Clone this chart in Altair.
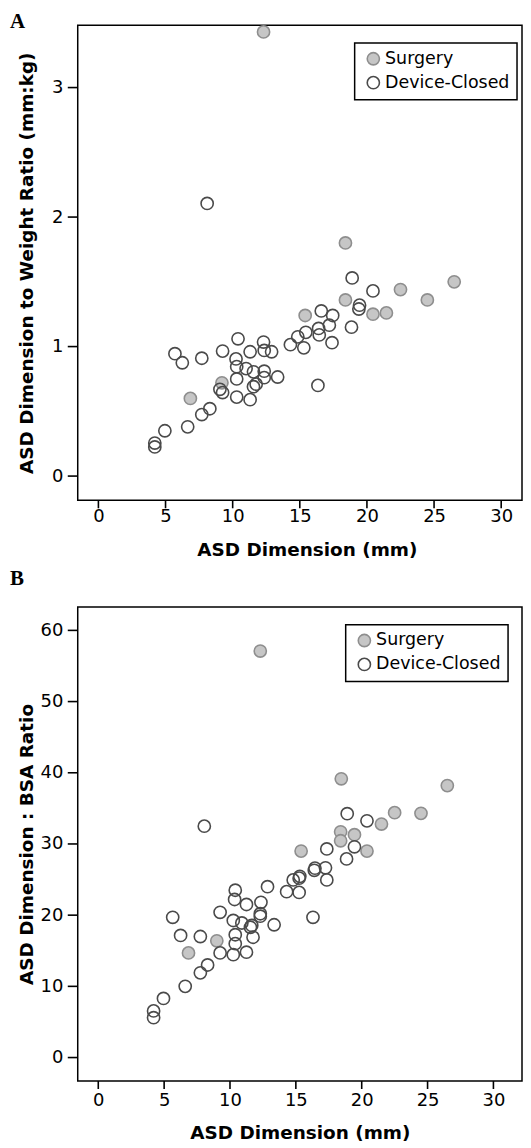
import altair as alt
import pandas as pd

groups = ["Surgery", "Device-Closed"]

# Panel A: ASD dimension (mm) vs ASD dimension to weight ratio (mm:kg)
a_surg_x = [12.3, 18.4, 26.5, 24.5, 22.5, 21.45, 18.4, 20.45, 15.4, 9.2, 6.85]
a_surg_y = [3.43, 1.80, 1.50, 1.36, 1.44, 1.26, 1.36, 1.25, 1.24, 0.72, 0.60]
a_dev_x = [18.9, 20.45, 19.45, 19.4, 18.85, 16.6, 17.45, 17.2, 16.4, 16.45, 17.4, 15.45,
           14.85, 14.3, 15.3, 16.35, 10.4, 12.3, 12.35, 12.9, 11.3, 9.25, 7.7, 5.7, 6.25,
           10.25, 10.3, 11.0, 11.55, 12.35, 13.35, 12.35, 10.3, 11.75, 11.55, 9.05, 9.25,
           10.3, 11.3, 8.3, 7.7, 6.65, 4.95, 4.2, 4.2, 8.1]
a_dev_y = [1.53, 1.43, 1.32, 1.29, 1.15, 1.275, 1.24, 1.165, 1.14, 1.09, 1.03, 1.11,
           1.075, 1.015, 0.99, 0.70, 1.06, 1.035, 0.97, 0.96, 0.96, 0.965, 0.91, 0.945, 0.875,
           0.905, 0.845, 0.83, 0.805, 0.81, 0.765, 0.76, 0.75, 0.71, 0.69, 0.67, 0.645,
           0.61, 0.59, 0.52, 0.475, 0.38, 0.35, 0.255, 0.225, 2.105]

# Panel B: ASD dimension (mm) vs ASD dimension : BSA ratio
b_surg_x = [12.3, 18.45, 26.5, 24.5, 22.5, 21.5, 18.4, 19.45, 18.4, 20.4, 15.4, 9.0, 6.85]
b_surg_y = [57.1, 39.15, 38.2, 34.3, 34.4, 32.8, 31.7, 31.3, 30.45, 29.0, 29.0, 16.4, 14.7]
b_dev_x = [18.9, 20.4, 19.45, 18.85, 17.35, 17.25, 16.45, 16.4, 17.35, 15.3, 15.25, 14.8,
           14.3, 15.25, 16.3, 12.85, 10.4, 10.35, 11.25, 12.35, 12.3, 12.3, 9.25, 10.25,
           10.9, 11.65, 11.55, 13.35, 11.75, 10.4, 10.4, 9.25, 10.25, 11.25, 5.65, 6.25,
           7.75, 8.3, 7.75, 6.6, 4.95, 4.2, 4.2, 8.05]
b_dev_y = [34.25, 33.25, 29.6, 27.9, 29.3, 26.65, 26.6, 26.3, 24.95, 25.45, 25.2, 24.95,
           23.3, 23.2, 19.7, 24.0, 23.5, 22.2, 21.5, 21.8, 20.2, 19.85, 20.4, 19.25,
           18.9, 18.55, 18.3, 18.65, 16.9, 17.25, 16.0, 14.7, 14.45, 14.8, 19.7, 17.15,
           17.0, 13.0, 11.9, 10.0, 8.3, 6.55, 5.6, 32.5]

x_ticks = [0, 5, 10, 15, 20, 25, 30]
a_y_ticks = [0, 1, 2, 3]
b_y_ticks = [0, 10, 20, 30, 40, 50, 60]

fill_colors = ["#c6c6c6", "transparent"]
stroke_colors = ["#8e8e8e", "#4a4a4a"]

FONT = "DejaVu Sans"


def make_df(sx, sy, dx, dy):
    return pd.DataFrame({
        "asd": sx + dx,
        "val": sy + dy,
        "group": [groups[0]] * len(sx) + [groups[1]] * len(dx),
    })


def panel(df, xdom, ydom, yticks, ytitle, w, h, lx, ly, xlp, xtp, xtitle_x):
    leg = alt.Legend(orient="none", legendX=lx, legendY=ly, title=None,
                     strokeColor="black", fillColor="white",
                     padding=7, labelFont=FONT, labelFontSize=17.5, labelColor="black",
                     symbolSize=150, symbolStrokeWidth=1.6, rowPadding=4,
                     labelOffset=3, symbolOffset=3)
    x_axis = alt.Axis(values=x_ticks, title="ASD Dimension (mm)", ticks=False,
                      labelPadding=xlp, titlePadding=xtp, titleX=xtitle_x)
    y_axis = alt.Axis(values=yticks, title=ytitle, ticks=False, labelPadding=15,
                      titleX=-51, titleY=h / 2, titleBaseline="middle")
    xs = alt.Scale(domain=xdom, nice=False, zero=False)
    ys = alt.Scale(domain=ydom, nice=False, zero=False)
    pts = alt.Chart(df).mark_circle(size=150, opacity=1, strokeWidth=1.6).encode(
        x=alt.X("asd:Q", scale=xs, axis=x_axis),
        y=alt.Y("val:Q", scale=ys, axis=y_axis),
        fill=alt.Fill("group:N", scale=alt.Scale(domain=groups, range=fill_colors), legend=leg),
        stroke=alt.Stroke("group:N", scale=alt.Scale(domain=groups, range=stroke_colors), legend=leg),
    )
    xt = alt.Chart(pd.DataFrame({"asd": x_ticks})).mark_rule(
        color="black", strokeWidth=1.6
    ).encode(x=alt.X("asd:Q", scale=xs, axis=x_axis), y=alt.value(h), y2=alt.value(h + 8))
    yt = alt.Chart(pd.DataFrame({"val": yticks})).mark_rule(
        color="black", strokeWidth=1.6
    ).encode(y=alt.Y("val:Q", scale=ys, axis=y_axis), x=alt.value(-10), x2=alt.value(0))
    return pts, xt, yt


labels_df = pd.DataFrame({"t": ["A", "B"], "yy": [3, 562]})

df_a = make_df(a_surg_x, a_surg_y, a_dev_x, a_dev_y)
df_b = make_df(b_surg_x, b_surg_y, b_dev_x, b_dev_y)

pa, xta, yta = panel(df_a, [-1.54, 31.55], [-0.187, 3.482], a_y_ticks,
                     "ASD Dimension to Weight Ratio (mm:kg)", 446, 477, 278, 18, 7, 15, 230)
letters = alt.Chart(labels_df).mark_text(
    font="Liberation Serif", fontWeight="bold", fontSize=21, align="left",
    baseline="alphabetic", color="black"
).encode(x=alt.value(-68), y=alt.Y("yy:Q", scale=None), text="t:N")
chart_a = alt.layer(pa, xta, yta, letters).properties(width=446, height=477)

pb, xtb, ytb = panel(df_b, [-1.56, 32.17], [-3.3, 63.3], b_y_ticks,
                     "ASD Dimension : BSA Ratio", 446, 476, 269, 18, 11, 14, 223)
chart_b = alt.layer(pb, xtb, ytb).properties(width=446, height=476)

chart = alt.vconcat(chart_a, chart_b, spacing=16).resolve_scale(
    x="independent", y="independent"
).resolve_legend(fill="independent", stroke="independent").properties(
    padding={"left": 1, "top": 0, "right": 0, "bottom": 0}
).configure_view(stroke="black", strokeWidth=1.5).configure_axis(
    grid=False, domain=False,
    labelFont=FONT, labelFontSize=18, labelColor="black",
    titleFont=FONT, titleFontSize=18.5, titleFontWeight="bold", titleColor="black"
).configure_legend(strokeWidth=1.5, cornerRadius=0)

chart.save("out.html", embed_options={"renderer": "svg", "actions": False})
